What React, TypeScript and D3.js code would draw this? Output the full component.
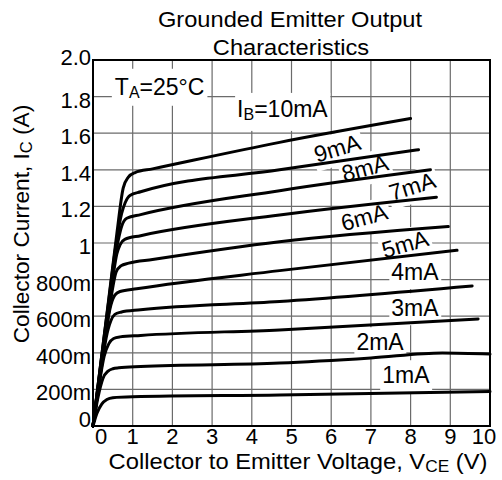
import React, { useEffect, useRef } from "react";
import * as d3 from "d3";

const W = 502;
const H = 480;

const xTicks = [0, 1, 2, 3, 4, 5, 6, 7, 8, 9, 10];
const xTickLabels = ["0", "1", "2", "3", "4", "5", "6", "7", "8", "9", "10"];
const yTicks = [0, 0.2, 0.4, 0.6, 0.8, 1.0, 1.2, 1.4, 1.6, 1.8, 2.0];
const yTickLabels = ["0", "200m", "400m", "600m", "800m", "1", "1.2", "1.4", "1.6", "1.8", "2.0"];

// [V_CE (V), I_C (A)]
const ib1mA = [[0, 0], [0.1, 0.07], [0.22, 0.12], [0.35, 0.145], [0.5, 0.155], [1.0, 0.16], [4.7, 0.169], [10, 0.188]];
const ib2mA = [[0, 0], [0.12, 0.15], [0.25, 0.26], [0.38, 0.3], [0.5, 0.313], [0.65, 0.318], [1.2, 0.325], [4.7, 0.344], [7, 0.372], [8.8, 0.399], [10, 0.393]];
const ib3mA = [[0, 0], [0.15, 0.22], [0.28, 0.38], [0.4, 0.45], [0.52, 0.478], [0.68, 0.487], [1.2, 0.495], [4.7, 0.525], [9.7, 0.585]];
const ib4mA = [[0, 0], [0.2, 0.3], [0.33, 0.48], [0.45, 0.575], [0.55, 0.61], [0.7, 0.622], [1.2, 0.635], [4.7, 0.68], [9.55, 0.765]];
const ib5mA = [[0, 0], [0.2, 0.31], [0.35, 0.55], [0.45, 0.66], [0.55, 0.715], [0.68, 0.735], [1.1, 0.75], [4.7, 0.849], [9.17, 0.96]];
const ib6mA = [[0, 0], [0.2, 0.32], [0.4, 0.62], [0.5, 0.76], [0.58, 0.84], [0.7, 0.875], [0.9, 0.89], [1.5, 0.91], [4.7, 1.007], [8.95, 1.09]];
const ib7mA = [[0, 0], [0.2, 0.33], [0.4, 0.65], [0.52, 0.84], [0.6, 0.94], [0.68, 0.99], [0.8, 1.02], [1.2, 1.04], [4.7, 1.153], [8.65, 1.25]];
const ib8mA = [[0, 0], [0.2, 0.34], [0.4, 0.67], [0.55, 0.92], [0.64, 1.02], [0.72, 1.09], [0.85, 1.135], [1.2, 1.155], [4.7, 1.286], [8.5, 1.4]];
const ib9mA = [[0, 0], [0.2, 0.35], [0.4, 0.69], [0.6, 1.02], [0.72, 1.16], [0.81, 1.22], [0.93, 1.26], [1.2, 1.28], [4.7, 1.4], [8.2, 1.51]];
const ib10mA = [[0, 0], [0.2, 0.35], [0.4, 0.7], [0.6, 1.05], [0.76, 1.3], [0.89, 1.36], [1.06, 1.385], [1.5, 1.405], [4.7, 1.55], [8, 1.68]];

const curves = [ib1mA, ib2mA, ib3mA, ib4mA, ib5mA, ib6mA, ib7mA, ib8mA, ib9mA, ib10mA];

// curve labels: text, anchor V, anchor I, rotation (deg)
const curveLabelText = ["1mA", "2mA", "3mA", "4mA", "5mA", "6mA", "7mA", "8mA", "9mA"];
const curveLabelV = [7.88, 7.23, 8.11, 8.11, 7.86, 6.83, 8.04, 6.85, 6.15];
const curveLabelI = [0.279, 0.459, 0.645, 0.842, 0.995, 1.142, 1.311, 1.41, 1.519];
const curveLabelRot = [0, 0, 0, 0, -16, -15, -17, -15, -17];

const FONT = "'Liberation Sans', Arial, Helvetica, sans-serif";

export default function App() {
  const ref = useRef<SVGSVGElement>(null);

  useEffect(() => {
    const svg = d3.select(ref.current);
    svg.selectAll("*").remove();

    const x = d3.scaleLinear().domain([0, 10]).range([93, 490]);
    const y = d3.scaleLinear().domain([0, 2]).range([426, 60]);

    svg.append("rect").attr("width", W).attr("height", H).attr("fill", "#fff");

    // grid
    const grid = svg.append("g").attr("stroke", "#6b6b6b").attr("stroke-width", 1.2);
    grid.selectAll("line.v").data(xTicks.slice(1, -1)).join("line")
      .attr("class", "v")
      .attr("x1", (d) => x(d)).attr("x2", (d) => x(d))
      .attr("y1", y(0)).attr("y2", y(2));
    grid.selectAll("line.h").data(yTicks.slice(1, -1)).join("line")
      .attr("class", "h")
      .attr("y1", (d) => y(d)).attr("y2", (d) => y(d))
      .attr("x1", x(0)).attr("x2", x(10));

    const boxLayer = svg.append("g");
    const curveLayer = svg.append("g");
    const textLayer = svg.append("g")
      .attr("font-family", FONT).attr("fill", "#000");

    // curves
    const line = d3.line<number[]>()
      .x((d) => x(d[0]))
      .y((d) => y(d[1]))
      .curve(d3.curveMonotoneX);
    curveLayer.selectAll("path").data(curves).join("path")
      .attr("d", (d) => line(d) as string)
      .attr("fill", "none")
      .attr("stroke", "#000")
      .attr("stroke-width", 3)
      .attr("stroke-linecap", "round")
      .attr("stroke-linejoin", "round");

    const addBox = (g: any, tx: number, ty: number, rot: number, pad: number[]) => {
      const bb = (g.node() as SVGGraphicsElement).getBBox();
      boxLayer.append("rect")
        .attr("transform", `translate(${tx},${ty}) rotate(${rot})`)
        .attr("x", bb.x - pad[0]).attr("y", bb.y - pad[1])
        .attr("width", bb.width + pad[0] + pad[2])
        .attr("height", bb.height + pad[1] + pad[3])
        .attr("fill", "#fff");
    };

    // curve labels
    curveLabelText.forEach((t, i) => {
      const tx = x(curveLabelV[i]);
      const ty = y(curveLabelI[i]);
      const rot = curveLabelRot[i];
      const g = textLayer.append("g").attr("transform", `translate(${tx},${ty}) rotate(${rot})`);
      g.append("text").attr("text-anchor", "middle").attr("dy", "0.36em")
        .attr("font-size", 23).text(t);
      addBox(g, tx, ty, rot, [2, 2, 2, 4]);
    });

    // I_B = 10mA
    {
      const tx = x(3.63);
      const ty = y(1.689);
      const g = textLayer.append("g").attr("transform", `translate(${tx},${ty})`);
      const t = g.append("text").attr("font-size", 23);
      t.append("tspan").text("I");
      t.append("tspan").attr("font-size", 16).attr("dy", 3).text("B");
      t.append("tspan").attr("dy", -3).text("=10mA");
      addBox(g, tx, ty, 0, [2, 3, 2, 8]);
    }

    // T_A = 25°C
    {
      const tx = x(0.55);
      const ty = y(1.81);
      const g = textLayer.append("g").attr("transform", `translate(${tx},${ty})`);
      const t = g.append("text").attr("font-size", 23);
      t.append("tspan").text("T");
      t.append("tspan").attr("font-size", 16).attr("dy", 3).text("A");
      t.append("tspan").attr("dy", -3).text("=25°C");
      addBox(g, tx, ty, 0, [3, 5, 3, 5]);
    }

    // frame
    svg.append("rect")
      .attr("x", x(0)).attr("y", y(2))
      .attr("width", x(10) - x(0)).attr("height", y(0) - y(2))
      .attr("fill", "none").attr("stroke", "#000").attr("stroke-width", 2);

    const axisText = svg.append("g").attr("font-family", FONT).attr("fill", "#000");

    // x tick labels
    axisText.selectAll("text.xt").data(xTicks).join("text")
      .attr("class", "xt")
      .attr("x", (d) => x(d) + (d === 0 ? 8 : d === 10 ? -6 : 0))
      .attr("y", 444)
      .attr("text-anchor", "middle")
      .attr("font-size", 22)
      .text((d, i) => xTickLabels[i]);

    // y tick labels
    axisText.selectAll("text.yt").data(yTicks).join("text")
      .attr("class", "yt")
      .attr("x", 91)
      .attr("y", (d) => y(d) + (d === 0 ? -7 : d === 2 ? -3 : 3))
      .attr("dy", "0.36em")
      .attr("text-anchor", "end")
      .attr("font-size", 22)
      .text((d, i) => yTickLabels[i]);

    // x axis title
    {
      const t = axisText.append("text")
        .attr("transform", "translate(298,469) scale(1.08,1)")
        .attr("text-anchor", "middle").attr("font-size", 22);
      t.append("tspan").text("Collector to Emitter Voltage, V");
      t.append("tspan").attr("font-size", 16).attr("dy", 3).text("CE");
      t.append("tspan").attr("dy", -3).text(" (V)");
    }

    // y axis title
    {
      const t = axisText.append("text")
        .attr("transform", "translate(29,224) rotate(-90) scale(1.03,1)")
        .attr("text-anchor", "middle").attr("font-size", 22);
      t.append("tspan").text("Collector Current, I");
      t.append("tspan").attr("font-size", 16).attr("dy", 3).text("C");
      t.append("tspan").attr("dy", -3).text(" (A)");
    }

    // title
    axisText.append("text")
      .attr("transform", "translate(290,27) scale(1.1,1)")
      .attr("text-anchor", "middle").attr("font-size", 21.5)
      .text("Grounded Emitter Output");
    axisText.append("text")
      .attr("transform", "translate(291,55) scale(1.1,1)")
      .attr("text-anchor", "middle").attr("font-size", 21.5)
      .text("Characteristics");
  }, []);

  return (
    <svg ref={ref} width={W} height={H} style={{ position: "absolute", left: 0, top: 0, display: "block" }} />
  );
}
